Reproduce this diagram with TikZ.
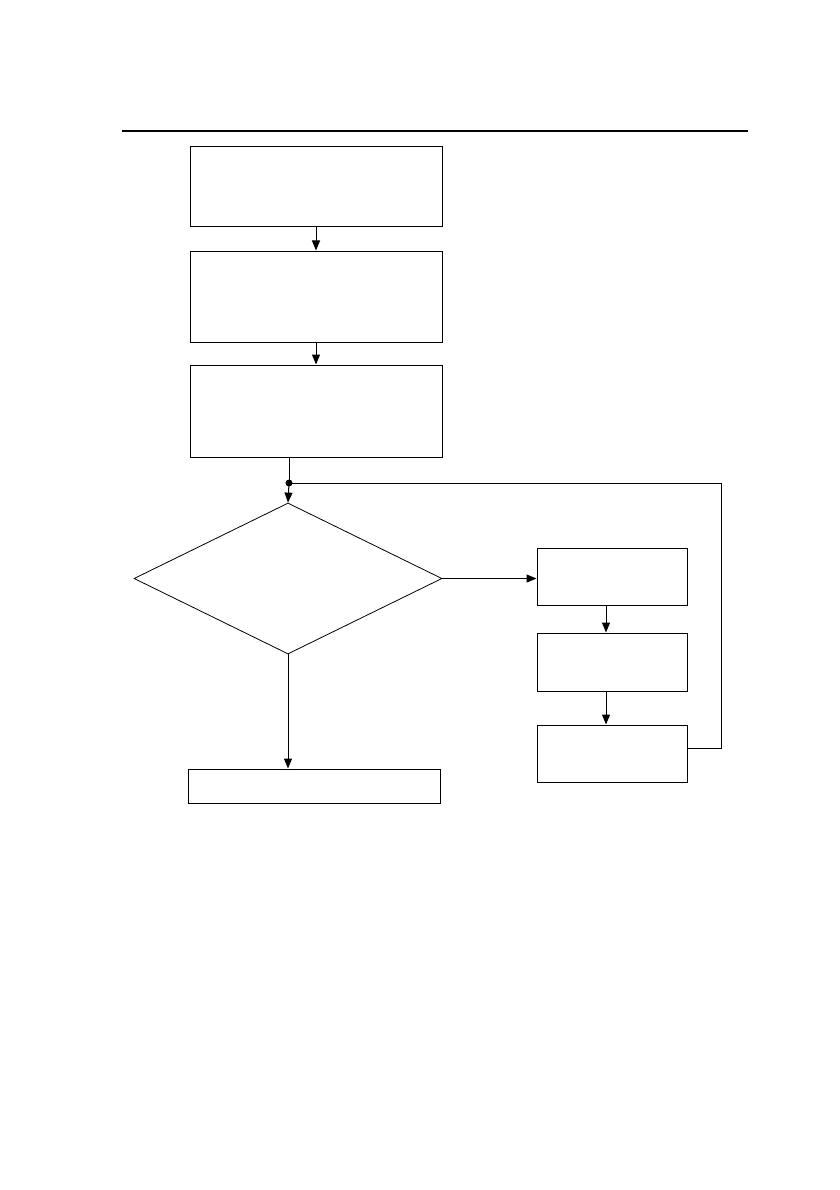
\documentclass[tikz,border=0pt]{standalone}
\usetikzlibrary{arrows.meta, positioning, shapes.geometric}
\tikzset{tarrow/.style = {-{Triangle[length=10pt,width=8pt]}}}
\tikzset{block/.style = {draw, line width=1pt, inner sep=0pt}}

\begin{document}
\begin{tikzpicture}[x=1pt, y=-1pt, line width=1pt]
    \useasboundingbox (0,0) rectangle (839,1190);
    \draw[line width=2.5pt] (122,131) -- (748,131);

    \node[block, minimum width=252pt, minimum height=80pt] (init)  at (316,187) {};
    \node[block, minimum width=252pt, minimum height=91pt] (prep)  at (316,296.5) {};
    \node[block, minimum width=252pt, minimum height=92pt] (setup) at (316,411) {};
    \node[draw, diamond, aspect=2.05, line width=0.8pt, inner sep=0pt,
          minimum width=308pt, minimum height=151pt] (check) at (288,578.5) {};
    \node[block, minimum width=150pt, minimum height=57pt] (stepa) at (612,576.5) {};
    \node[block, minimum width=150pt, minimum height=58pt] (stepb) at (612,662) {};
    \node[block, minimum width=150pt, minimum height=57pt] (stepc) at (612,753.5) {};
    \node[block, minimum width=252pt, minimum height=34pt] (done)  at (314,786) {};

    \coordinate (join) at (289,483);
    \coordinate (loop) at (721,483);
    \fill (join) circle (3.5pt);

    \draw[tarrow] (init.south) -- (prep.north);
    \draw[tarrow] (prep.south) -- (setup.north);
    \draw (setup.south -| join) -- (join);
    \draw[tarrow] (join) -- (check.north);
    \draw[tarrow] (check.east) -- (check.east -| stepa.west);
    \draw[tarrow] (stepa.south -| 606,0) -- (stepb.north -| 606,0);
    \draw[tarrow] (stepb.south -| 606,0) -- (stepc.north -| 606,0);
    \draw (stepc.east |- 0,748) -| (loop) -- (join);
    \draw[tarrow] (check.south) -- (check.south |- done.north);
\end{tikzpicture}
\end{document}
